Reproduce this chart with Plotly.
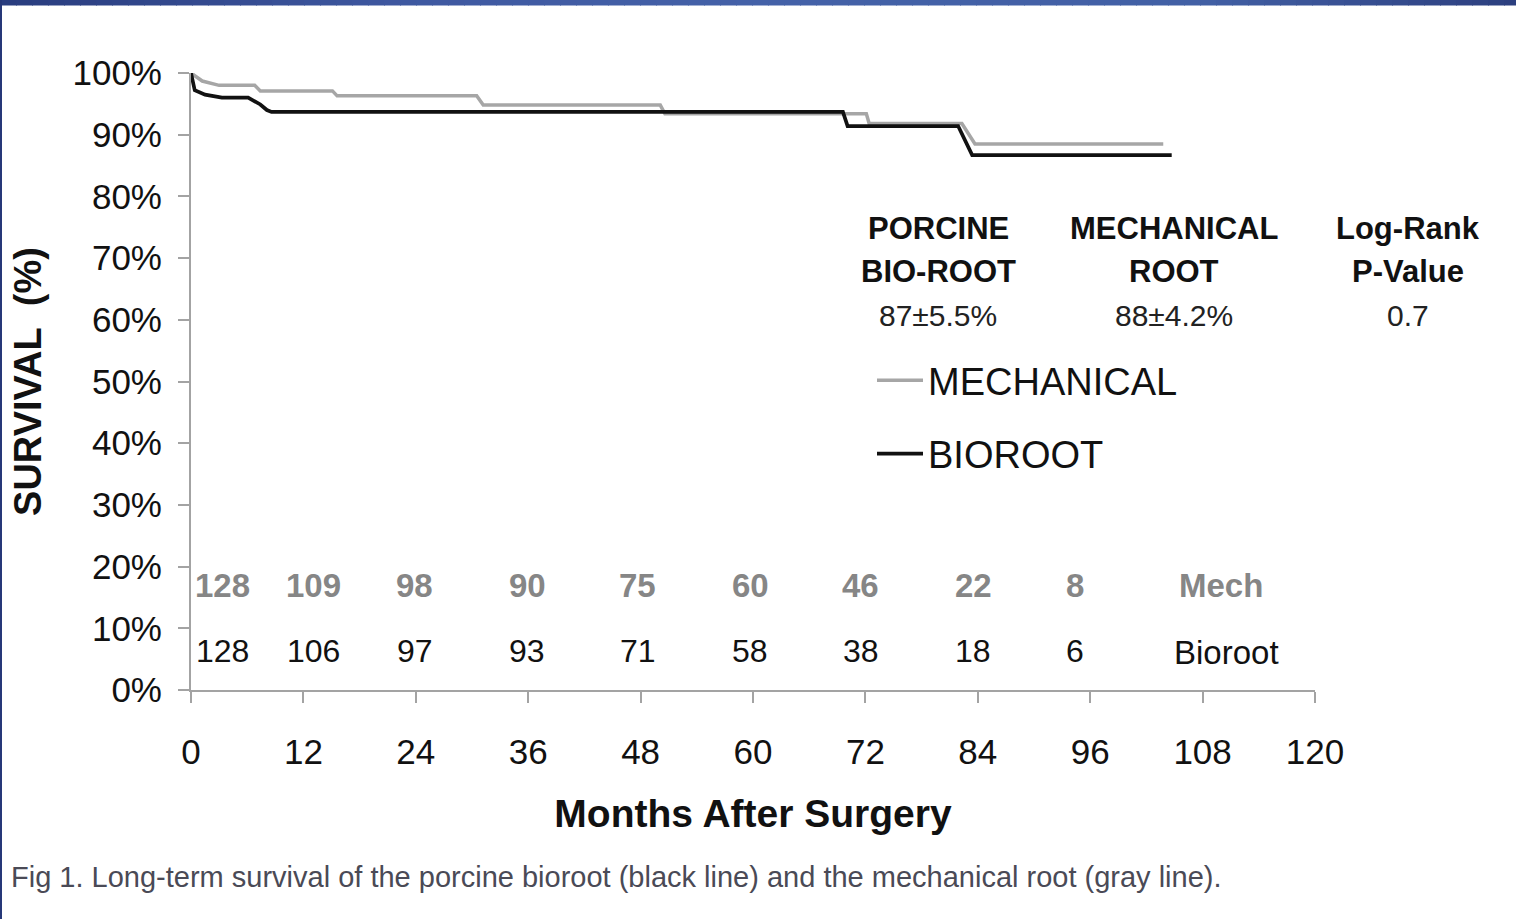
import plotly.graph_objects as go

# Kaplan-Meier style survival curves (months after surgery, % surviving)
mech_months = [0, 1.2, 3.0, 6.8, 7.4, 15.1, 15.6, 30.5, 31.2, 50.1, 50.6, 72.1, 72.4, 82.3, 83.7, 103.8]
mech_surv = [100, 98.7, 98.0, 98.0, 97.1, 97.1, 96.3, 96.3, 94.8, 94.8, 93.4, 93.4, 91.8, 91.8, 88.5, 88.5]

bio_months = [0, 0.4, 1.5, 3.3, 6.1, 7.4, 8.1, 8.6, 69.6, 70.1, 81.9, 83.4, 104.7]
bio_surv = [100, 97.2, 96.5, 96.0, 96.0, 94.9, 94.0, 93.7, 93.7, 91.4, 91.4, 86.7, 86.7]

# Patients at risk
risk_label_months = [3.4, 13.1, 23.9, 35.9, 47.7, 59.7, 71.5, 83.5, 94.4]
mech_at_risk = [128, 109, 98, 90, 75, 60, 46, 22, 8]
bio_at_risk = [128, 106, 97, 93, 71, 58, 38, 18, 6]

x_ticks = [0, 12, 24, 36, 48, 60, 72, 84, 96, 108, 120]

# Summary statistics block
stat_columns = [
    ("PORCINE", "BIO-ROOT", "87±5.5%"),
    ("MECHANICAL", "ROOT", "88±4.2%"),
    ("Log-Rank", "P-Value", "0.7"),
]

caption = "Fig 1. Long-term survival of the porcine bioroot (black line) and the mechanical root (gray line)."

W, H = 1516, 919
L, R, T, B = 191, 201, 73, 229
PW, PH = W - L - R, H - T - B
FONT = "Liberation Sans, Arial, sans-serif"
GRAY_LINE = "#a6a6a6"
GRAY_TEXT = "#868686"
AXIS = "#a3a3a3"


def px_x(px):
    return (px - L) / PW


def px_y(py):
    return (H - B - py) / PH


fig = go.Figure()
fig.add_trace(go.Scatter(
    x=mech_months, y=mech_surv, mode="lines", name="MECHANICAL",
    line=dict(color=GRAY_LINE, width=3.5), legendgroup="m",
))
fig.add_trace(go.Scatter(
    x=bio_months, y=bio_surv, mode="lines", name="BIOROOT",
    line=dict(color="#111111", width=3.7), legendgroup="b",
))

annotations = []
# at-risk rows
for m, n in zip(risk_label_months, mech_at_risk):
    annotations.append(dict(x=m, y=17.0, xref="x", yref="y", text=f"<b>{n}</b>", showarrow=False,
                            font=dict(family=FONT, size=33, color=GRAY_TEXT)))
for m, n in zip(risk_label_months, bio_at_risk):
    annotations.append(dict(x=m, y=6.3, xref="x", yref="y", text=str(n), showarrow=False,
                            font=dict(family=FONT, size=32, color="#111111")))
annotations.append(dict(x=110.0, y=17.0, xref="x", yref="y", text="<b>Mech</b>", showarrow=False,
                        font=dict(family=FONT, size=33, color=GRAY_TEXT)))
annotations.append(dict(x=110.5, y=6.0, xref="x", yref="y", text="Bioroot", showarrow=False,
                        font=dict(family=FONT, size=33, color="#111111")))

# statistics columns (pixel centres converted to paper coordinates)
col_px = [938, 1174, 1408]
row_px = [229, 271, 315]
for cx, (h1, h2, val) in zip(col_px, stat_columns):
    for ry, txt, size, col in ((row_px[0], f"<b>{h1}</b>", 31, "#111111"),
                               (row_px[1], f"<b>{h2}</b>", 31, "#111111"),
                               (row_px[2], val, 30, "#222222")):
        annotations.append(dict(x=px_x(cx), y=px_y(ry), xref="paper", yref="paper", text=txt,
                                showarrow=False, xanchor="center", yanchor="middle",
                                font=dict(family=FONT, size=size, color=col)))

# figure caption
annotations.append(dict(x=px_x(9), y=px_y(877), xref="paper", yref="paper", xanchor="left", yanchor="middle",
                        text=caption, showarrow=False, font=dict(family=FONT, size=29, color="#4a4a56")))

# slide frame: gradient bar on top, thin edge on the left
shapes = []
stops = [(0, (41, 60, 126)), (400, (62, 88, 160)), (750, (68, 97, 168)), (1200, (66, 96, 165)), (1516, (44, 63, 127))]


def frame_color(px):
    for (a, ca), (b, cb) in zip(stops[:-1], stops[1:]):
        if a <= px <= b:
            t = (px - a) / (b - a)
            return "rgb({},{},{})".format(*[round(ca[i] + (cb[i] - ca[i]) * t) for i in range(3)])
    return "rgb(44,63,127)"


step = 16
for x0 in range(0, W, step):
    shapes.append(dict(type="rect", xref="paper", yref="paper", x0=px_x(x0), x1=px_x(min(x0 + step + 1, W)),
                       y0=px_y(5.5), y1=px_y(0), line=dict(width=0), fillcolor=frame_color(x0 + step / 2),
                       layer="above"))
shapes.append(dict(type="rect", xref="paper", yref="paper", x0=px_x(0), x1=px_x(2), y0=px_y(H), y1=px_y(0),
                   line=dict(width=0), fillcolor="rgb(38,56,120)", layer="above"))

fig.update_layout(
    width=W, height=H,
    margin=dict(l=L, r=R, t=T, b=B, pad=0),
    paper_bgcolor="white", plot_bgcolor="white",
    font=dict(family=FONT, color="#111111"),
    showlegend=True,
    legend=dict(x=px_x(872), y=px_y(349), xanchor="left", yanchor="top",
                font=dict(family=FONT, size=38, color="#111111"),
                bgcolor="rgba(0,0,0,0)", tracegroupgap=21, itemwidth=46),
    annotations=annotations,
    shapes=shapes,
    xaxis=dict(
        range=[0, 120], tickvals=x_ticks, ticks="outside", ticklen=11, tickwidth=2, tickcolor=AXIS,
        showline=True, linecolor=AXIS, linewidth=2, showgrid=False, zeroline=False,
        tickfont=dict(family=FONT, size=35, color="#111111"), ticklabelstandoff=19,
        title=dict(text="<b>Months After Surgery</b>", font=dict(family=FONT, size=39, color="#111111"),
                   standoff=30),
    ),
    yaxis=dict(
        range=[0, 100], dtick=10, ticksuffix="%", ticks="outside", ticklen=11, tickwidth=2, tickcolor=AXIS,
        showline=True, linecolor=AXIS, linewidth=2, showgrid=False, zeroline=False,
        tickfont=dict(family=FONT, size=35, color="#111111"), ticklabelstandoff=9,
        title=dict(text="<b>SURVIVAL\u00a0 (%)</b>", font=dict(family=FONT, size=38, color="#111111"),
                   standoff=19),
    ),
)

fig.write_html("out.html")
